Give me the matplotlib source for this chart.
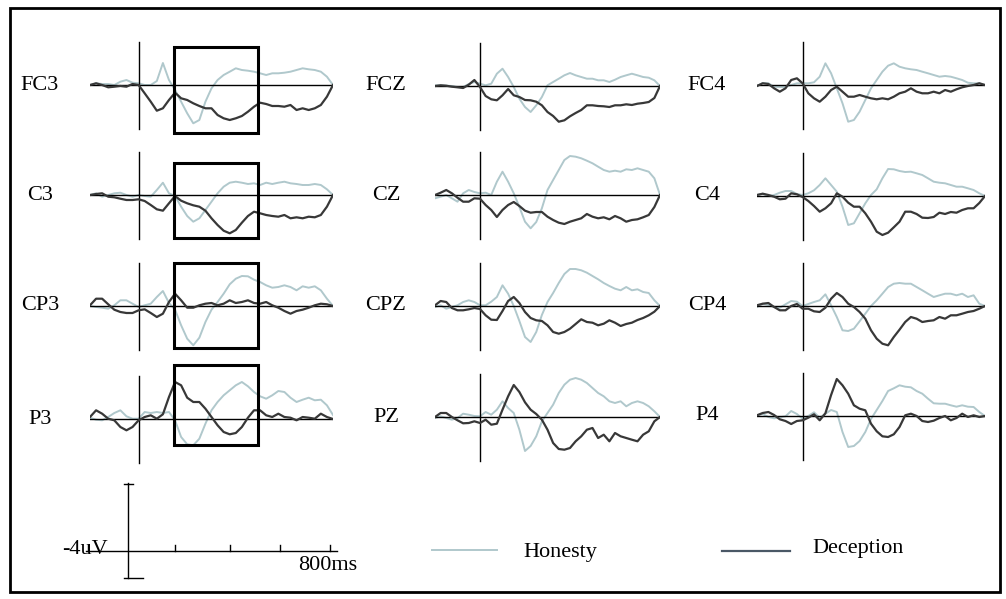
import matplotlib
matplotlib.use("Agg")
import matplotlib.pyplot as plt
from matplotlib.patches import Rectangle

# ---------------- data (amplitude in uV, time in ms) ----------------
times = list(range(-200, 801, 25))

honesty_FC3 = [0.0, 0.17, 0.1, 0.1, 0.0, 0.33, 0.5, 0.23,
               0.17, 0.0, 0.0, 0.4, 2.2, 0.5, -0.5, -1.67,
               -2.83, -3.83, -3.5, -1.67, -0.33, 0.5, 1.0, 1.33,
               1.67, 1.5, 1.43, 1.33, 1.17, 1.0, 1.17, 1.17,
               1.23, 1.33, 1.5, 1.67, 1.57, 1.5, 1.33, 0.83,
               0.0]
deception_FC3 = [0.0, 0.17, 0.0, -0.23, -0.17, -0.1, -0.17, 0.1,
                 0.0, -0.83, -1.67, -2.57, -2.33, -1.5, -0.77, -1.33,
                 -1.5, -1.83, -2.1, -2.33, -2.33, -3.0, -3.33, -3.5,
                 -3.33, -3.1, -2.67, -2.17, -1.77, -1.9, -2.1, -2.1,
                 -2.17, -2.0, -2.5, -2.33, -2.5, -2.33, -2.0, -1.17,
                 0.0]
honesty_C3 = [0.0, 0.17, -0.17, 0.0, 0.17, 0.23, 0.0, -0.17,
              0.0, -0.1, -0.17, 0.5, 1.23, 0.17, -0.1, -1.17,
              -2.1, -2.67, -2.33, -1.5, -0.67, 0.17, 0.83, 1.23,
              1.33, 1.23, 1.1, 1.17, 1.0, 1.23, 1.1, 1.23,
              1.33, 1.17, 1.1, 1.0, 1.0, 1.1, 1.0, 0.57,
              0.0]
deception_C3 = [0.0, 0.1, 0.17, -0.17, -0.23, -0.37, -0.5, -0.5,
                -0.43, -0.6, -1.0, -1.43, -1.57, -0.83, -0.1, -0.57,
                -0.83, -1.03, -1.17, -1.57, -2.33, -3.0, -3.57, -3.83,
                -3.5, -2.77, -2.1, -1.67, -1.83, -2.0, -2.1, -2.17,
                -2.0, -2.33, -2.23, -2.33, -2.17, -2.23, -2.0, -1.17,
                0.0]
honesty_CP3 = [0.0, -0.1, -0.17, -0.27, 0.07, 0.57, 0.57, 0.23,
               -0.1, 0.07, 0.23, 0.9, 1.5, 0.3, -0.37, -1.93,
               -3.27, -3.93, -3.17, -1.6, -0.37, 0.4, 1.23, 2.17,
               2.73, 3.0, 2.97, 2.63, 2.4, 2.07, 1.83, 1.9,
               2.07, 1.9, 1.57, 1.97, 1.83, 1.97, 1.57, 0.73,
               0.0]
deception_CP3 = [0.07, 0.73, 0.73, 0.17, -0.37, -0.6, -0.7, -0.7,
                 -0.43, -0.33, -0.7, -1.1, -0.77, 0.4, 1.23, 0.57,
                 -0.17, -0.17, 0.07, 0.23, 0.3, 0.07, 0.23, 0.57,
                 0.3, 0.4, 0.57, 0.3, 0.23, 0.4, 0.07, -0.17,
                 -0.5, -0.77, -0.5, -0.37, -0.17, 0.07, 0.23, 0.17,
                 0.0]
honesty_P3 = [0.13, -0.07, -0.13, 0.2, 0.6, 0.87, 0.27, 0.03,
              0.03, 0.7, 0.6, 0.7, 0.6, 0.7, -0.13, -1.8,
              -2.53, -2.63, -1.97, -0.47, 0.87, 1.7, 2.37, 2.87,
              3.37, 3.7, 3.27, 2.7, 2.27, 2.03, 2.37, 2.8,
              2.7, 2.13, 1.7, 1.93, 2.13, 1.87, 1.93, 1.37,
              0.4]
deception_P3 = [0.2, 0.87, 0.53, 0.03, -0.13, -0.8, -1.13, -0.8,
                -0.13, 0.2, 0.37, 0.03, 0.47, 2.2, 3.7, 3.37,
                2.13, 1.7, 1.7, 1.03, 0.2, -0.63, -1.3, -1.53,
                -1.4, -0.8, 0.13, 0.87, 0.87, 0.37, 0.2, 0.53,
                0.2, 0.13, -0.13, 0.2, 0.13, 0.03, 0.53, 0.2,
                0.0]
honesty_FCZ = [0.07, 0.07, 0.03, 0.0, -0.1, -0.1, 0.2, 0.4,
               0.23, 0.07, 0.23, 1.23, 1.73, 0.9, -0.1, -1.27,
               -2.1, -2.6, -1.93, -1.1, 0.07, 0.4, 0.73, 1.07,
               1.3, 1.07, 0.9, 0.73, 0.73, 0.57, 0.57, 0.4,
               0.63, 0.9, 1.07, 1.23, 1.07, 0.9, 0.83, 0.57,
               0.0]
deception_FCZ = [0.0, 0.07, 0.03, -0.07, -0.13, -0.2, 0.13, 0.6,
                 -0.1, -1.0, -1.33, -1.43, -0.93, -0.3, -0.93, -1.1,
                 -1.4, -1.43, -1.57, -1.93, -2.6, -3.0, -3.57, -3.43,
                 -3.03, -2.7, -2.4, -1.93, -1.93, -2.0, -2.03, -2.1,
                 -1.93, -1.93, -1.83, -1.9, -1.77, -1.7, -1.6, -1.2,
                 0.0]
honesty_CZ = [-0.33, -0.17, 0.0, -0.33, -0.67, 0.17, 0.5, 0.3,
              0.17, 0.23, 0.0, 1.33, 2.33, 1.33, 0.17, -1.2,
              -2.67, -3.33, -2.7, -1.33, 0.5, 1.5, 2.5, 3.5,
              3.9, 3.83, 3.67, 3.43, 3.17, 2.83, 2.5, 2.33,
              2.43, 2.33, 2.57, 2.5, 2.67, 2.5, 2.33, 1.67,
              0.0]
deception_CZ = [0.0, 0.23, 0.5, 0.17, -0.27, -0.67, -0.67, -0.33,
                -0.37, -1.0, -1.5, -2.2, -1.5, -1.0, -0.7, -1.1,
                -1.57, -1.77, -1.7, -1.7, -2.17, -2.5, -2.77, -2.9,
                -2.67, -2.5, -2.33, -1.9, -2.17, -2.33, -2.23, -2.43,
                -2.1, -2.33, -2.67, -2.5, -2.43, -2.23, -2.0, -1.2,
                0.0]
honesty_CPZ = [-0.1, 0.07, -0.27, -0.1, 0.07, 0.4, 0.57, 0.4,
               0.07, 0.07, 0.43, 0.9, 2.07, 1.23, 0.0, -1.5,
               -3.1, -3.6, -2.6, -0.9, 0.4, 1.3, 2.3, 3.2,
               3.7, 3.7, 3.57, 3.33, 3.0, 2.67, 2.3, 2.0,
               1.73, 1.57, 1.9, 1.57, 1.67, 1.4, 1.3, 0.57,
               0.0]
deception_CPZ = [0.07, 0.5, 0.4, -0.2, -0.43, -0.43, -0.33, -0.2,
                 -0.3, -0.93, -1.37, -1.4, -0.5, 0.5, 0.9, 0.3,
                 -0.6, -1.2, -1.43, -1.5, -1.93, -2.6, -2.77, -2.6,
                 -2.27, -1.8, -1.33, -1.6, -1.67, -1.93, -1.77, -1.43,
                 -1.67, -2.0, -1.8, -1.67, -1.4, -1.2, -0.93, -0.57,
                 0.0]
honesty_PZ = [-0.1, 0.07, -0.1, -0.27, -0.1, 0.33, 0.23, 0.1,
              0.07, 0.5, 0.23, 0.73, 1.57, 0.9, 0.4, -1.27,
              -3.4, -2.9, -1.93, -0.43, 0.4, 1.23, 2.4, 3.23,
              3.73, 3.9, 3.73, 3.4, 2.9, 2.4, 2.07, 1.57,
              1.4, 1.57, 1.07, 1.4, 1.57, 1.4, 1.07, 0.57,
              0.0]
deception_PZ = [0.0, 0.4, 0.4, 0.0, -0.33, -0.63, -0.6, -0.43,
                -0.6, -0.27, -0.77, -0.67, 0.73, 2.07, 3.2, 2.5,
                1.47, 0.73, 0.3, -0.27, -1.27, -2.6, -3.2, -3.27,
                -3.1, -2.43, -1.93, -1.27, -1.1, -2.1, -1.77, -2.43,
                -1.6, -1.93, -2.1, -2.27, -2.43, -1.77, -1.43, -0.43,
                0.0]
honesty_FC4 = [-0.1, 0.2, 0.17, -0.17, -0.2, -0.2, 0.0, 0.17,
               0.17, 0.17, 0.27, 0.83, 2.17, 1.17, -0.33, -1.83,
               -3.67, -3.5, -2.67, -1.5, -0.33, 0.5, 1.33, 1.93,
               2.17, 1.83, 1.67, 1.57, 1.5, 1.33, 1.17, 1.0,
               0.83, 0.9, 0.83, 0.67, 0.5, 0.23, 0.17, 0.17,
               0.0]
deception_FC4 = [-0.1, 0.17, 0.1, -0.33, -0.67, -0.33, 0.5, 0.67,
                 0.17, -0.83, -1.33, -1.67, -1.17, -0.5, -0.17, -0.67,
                 -1.17, -1.17, -1.0, -1.17, -1.33, -1.43, -1.33, -1.43,
                 -1.17, -0.83, -0.67, -0.33, -0.67, -0.83, -0.83, -0.67,
                 -0.83, -0.5, -0.67, -0.43, -0.23, -0.1, 0.0, 0.17,
                 0.0]
honesty_C4 = [0.1, 0.23, 0.0, 0.1, 0.33, 0.5, 0.5, 0.2,
              0.1, 0.27, 0.57, 1.1, 1.77, 1.1, 0.43, -1.07,
              -2.9, -2.73, -1.73, -0.73, 0.1, 0.67, 1.77, 2.7,
              2.67, 2.5, 2.4, 2.43, 2.27, 2.1, 1.77, 1.43,
              1.33, 1.27, 1.1, 0.93, 0.93, 0.77, 0.6, 0.27,
              0.0]
deception_C4 = [0.1, 0.23, 0.1, -0.07, -0.33, -0.27, 0.27, 0.17,
                -0.1, -0.5, -1.0, -1.57, -1.23, -0.73, 0.27, -0.07,
                -0.67, -1.07, -1.07, -1.73, -2.57, -3.57, -3.9, -3.67,
                -3.13, -2.57, -1.57, -1.57, -1.8, -2.17, -2.2, -2.1,
                -1.67, -1.8, -1.6, -1.67, -1.4, -1.23, -1.23, -0.7,
                0.0]
honesty_CP4 = [-0.1, 0.23, 0.1, -0.1, -0.17, 0.17, 0.5, 0.43,
               0.0, 0.2, 0.4, 0.57, 1.17, 0.07, -1.1, -2.43,
               -2.5, -2.27, -1.53, -0.77, 0.0, 0.57, 1.23, 1.9,
               2.23, 2.3, 2.23, 2.23, 1.9, 1.57, 1.23, 0.9,
               1.07, 1.23, 1.23, 1.07, 1.23, 0.9, 1.07, 0.23,
               0.0]
deception_CP4 = [0.07, 0.23, 0.3, -0.1, -0.43, -0.43, 0.0, 0.2,
                 -0.27, -0.27, -0.53, -0.6, -0.17, 0.73, 1.3, 0.9,
                 0.23, -0.1, -0.6, -1.27, -2.43, -3.27, -3.77, -3.93,
                 -3.1, -2.37, -1.6, -1.1, -1.27, -1.6, -1.5, -1.43,
                 -1.1, -1.27, -0.93, -0.93, -0.77, -0.6, -0.5, -0.27,
                 0.0]
honesty_P4 = [0.07, 0.2, -0.1, -0.23, -0.13, -0.03, 0.5, 0.2,
              -0.27, 0.0, 0.37, -0.17, 0.23, 0.6, 0.4, -1.6,
              -3.1, -3.0, -2.5, -1.6, -0.3, 0.6, 1.5, 2.5,
              2.77, 3.07, 2.93, 2.87, 2.5, 2.23, 1.73, 1.27,
              1.23, 1.23, 1.07, 0.93, 1.07, 0.93, 0.9, 0.4,
              0.0]
deception_P4 = [0.07, 0.3, 0.4, 0.1, -0.33, -0.5, -0.8, -0.5,
                -0.43, -0.17, 0.17, -0.43, 0.27, 2.1, 3.7, 3.07,
                2.23, 1.07, 0.73, 0.57, -0.77, -1.53, -2.03, -2.1,
                -1.83, -1.1, 0.07, 0.23, 0.0, -0.5, -0.6, -0.47,
                -0.2, 0.0, -0.43, -0.2, 0.23, -0.1, 0.07, -0.1,
                0.0]

channels = [["FC3", "FCZ", "FC4"],
            ["C3", "CZ", "C4"],
            ["CP3", "CPZ", "CP4"],
            ["P3", "PZ", "P4"]]
conditions = ["Honesty", "Deception"]
window_ms = [145, 490]          # highlighted time window
scale_labels = ["-4uV", "800ms"]

honesty = {"FC3": honesty_FC3, "C3": honesty_C3, "CP3": honesty_CP3, "P3": honesty_P3,
           "FCZ": honesty_FCZ, "CZ": honesty_CZ, "CPZ": honesty_CPZ, "PZ": honesty_PZ,
           "FC4": honesty_FC4, "C4": honesty_C4, "CP4": honesty_CP4, "P4": honesty_P4}
deception = {"FC3": deception_FC3, "C3": deception_C3, "CP3": deception_CP3, "P3": deception_P3,
             "FCZ": deception_FCZ, "CZ": deception_CZ, "CPZ": deception_CPZ, "PZ": deception_PZ,
             "FC4": deception_FC4, "C4": deception_C4, "CP4": deception_CP4, "P4": deception_P4}
for k in honesty:
    assert len(honesty[k]) == len(times), k
    assert len(deception[k]) == len(times), k

# ---------------- layout (pixels) ----------------
W, H = 1006, 599
PX_PER_UV = 10.0
HALF = 70  # half-height of each panel axes, px
col_x = [(90, 333), (435, 660), (757, 985)]
row_y = [[85, 195, 306, 419], [86, 195, 306, 417], [85, 196, 306, 416]]
label_cx = [40, 386, 707]
box_uv = [(3.8, -4.8), (3.2, -4.3), (4.3, -4.2), (5.4, -2.6)]

COL_H = "#b0c8cc"
COL_D = "#383838"
FONT = "Liberation Serif"
FS = 16

fig = plt.figure(figsize=(W / 100, H / 100), dpi=100)
fig.patch.set_facecolor("white")

# overlay axes in pixel coordinates
ov = fig.add_axes([0, 0, 1, 1])
ov.set_xlim(0, W)
ov.set_ylim(H, 0)
ov.axis("off")
ov.add_patch(Rectangle((10, 8), 990, 584, fill=False, lw=2.0, ec="black"))

for c in range(3):
    x0, x1 = col_x[c]
    for r in range(4):
        yb = row_y[c][r]
        name = channels[r][c]
        ax = fig.add_axes([x0 / W, 1 - (yb + HALF) / H, (x1 - x0) / W, 2 * HALF / H])
        ax.set_xlim(times[0], times[-1])
        ax.set_ylim(-HALF / PX_PER_UV, HALF / PX_PER_UV)
        ax.axis("off")
        ax.patch.set_alpha(0)
        ax.plot([times[0], times[-1]], [0, 0], color="black", lw=1.0, zorder=3)
        ax.plot([0, 0], [-4.4, 4.3], color="black", lw=1.0, zorder=3)
        ax.plot(times, honesty[name], color=COL_H, lw=1.4, zorder=2)
        ax.plot(times, deception[name], color=COL_D, lw=1.6, zorder=4)
        if c == 0:
            top, bot = box_uv[r]
            ax.add_patch(Rectangle((window_ms[0], bot), window_ms[1] - window_ms[0], top - bot,
                                   fill=False, lw=2.2, ec="black", zorder=5, clip_on=False))
        ov.text(label_cx[c], yb, name, ha="center", va="center", fontsize=FS, family=FONT)

# scale bar
ov.plot([128, 128], [483, 578], color="black", lw=1.0)
ov.plot([124, 133], [484, 484], color="black", lw=1.0)
ov.plot([124, 143], [578, 578], color="black", lw=1.0)
ov.plot([86, 337], [551, 551], color="black", lw=1.0)
for tx in [88, 175, 230, 280, 330]:
    ov.plot([tx, tx], [545, 551], color="black", lw=1.0)
ov.text(62, 550, scale_labels[0], ha="left", va="center", fontsize=FS, family=FONT)
ov.text(298, 566, scale_labels[1], ha="left", va="center", fontsize=FS, family=FONT)

# legend
ov.plot([432, 497], [550, 550], color=COL_H, lw=1.4)
ov.text(523, 553, conditions[0], ha="left", va="center", fontsize=FS, family=FONT)
ov.plot([722, 790], [551, 551], color="#4a5866", lw=1.6)
ov.text(812, 548, conditions[1], ha="left", va="center", fontsize=FS, family=FONT)

fig.savefig("out.png", dpi=100)
